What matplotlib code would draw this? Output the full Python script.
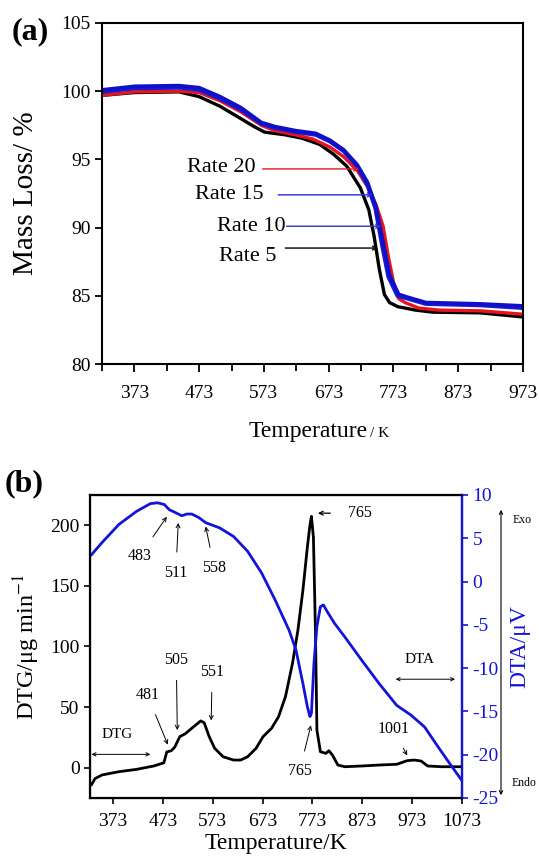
import numpy as np
import matplotlib
matplotlib.use("Agg")
import matplotlib.pyplot as plt
from matplotlib.patches import FancyArrowPatch

plt.rcParams['font.family'] = ['Liberation Serif', 'DejaVu Serif']
plt.rcParams['mathtext.fontset'] = 'stix'

# === (a) TG curves, mass loss (%) vs temperature (K) ===
T_r5 = [325, 373, 442, 473, 505, 537, 558, 574, 606, 632, 659, 680, 701, 722, 735, 743, 751, 759, 767, 780, 807, 834, 907, 973]
M_r5 = [99.7, 99.9, 99.95, 99.6, 98.9, 98.0, 97.4, 97.0, 96.8, 96.55, 96.1, 95.4, 94.5, 92.9, 91.3, 89.4, 87.0, 85.1, 84.5, 84.2, 83.95, 83.8, 83.75, 83.45]

T_r20 = [325, 373, 442, 473, 505, 537, 569, 590, 622, 648, 675, 696, 717, 733, 746, 757, 765, 773, 781, 791, 812, 844, 907, 973]
M_r20 = [99.7, 99.95, 100.0, 99.9, 99.3, 98.5, 97.5, 97.1, 96.8, 96.5, 95.9, 95.2, 94.2, 93.0, 91.7, 90.1, 87.9, 86.0, 84.8, 84.5, 84.1, 83.95, 83.9, 83.65]

T_r15 = [325, 373, 442, 473, 505, 537, 569, 590, 622, 653, 675, 696, 717, 733, 746, 757, 767, 781, 794, 823, 907, 973]
M_r15 = [100.1, 100.35, 100.4, 100.25, 99.6, 98.8, 97.7, 97.4, 97.1, 96.9, 96.4, 95.7, 94.6, 93.3, 91.5, 88.9, 86.5, 85.1, 84.9, 84.5, 84.4, 84.25]

T_r10 = [325, 373, 442, 473, 505, 537, 569, 590, 622, 653, 675, 696, 717, 733, 745, 755, 765, 779, 794, 823, 907, 973]
M_r10 = [99.95, 100.2, 100.25, 100.1, 99.45, 98.65, 97.6, 97.3, 97.0, 96.8, 96.3, 95.6, 94.5, 93.1, 91.4, 88.8, 86.4, 85.0, 84.8, 84.4, 84.3, 84.1]

rate_labels = ["Rate 20", "Rate 15", "Rate 10", "Rate 5"]
rate_text_T = [508, 520, 553, 548]
rate_text_M = [94.4, 92.4, 90.1, 87.9]
rate_line_T0 = [571, 595, 608, 606]
rate_tip_T = [720, 741, 754, 749]
rate_tip_M = [94.3, 92.4, 90.1, 88.5]
rate_colors = ["#e8141c", "#2a2ad8", "#3030c0", "black"]

# === (b) DTG (black) and DTA (blue) ===
T_dtg = [330, 337, 351, 385, 420, 455, 475, 481, 490, 497, 507, 518, 531, 549, 556, 566, 577, 594, 615, 629,
         643, 660, 674, 691, 705, 719, 733, 744, 754, 763, 768, 771, 775, 779, 782, 789, 800, 806, 813, 824,
         838, 872, 907, 942, 963, 977, 991, 1004, 1032, 1073]
dtg = [-14, -9, -6, -3.3, -1.4, 1.4, 4, 13, 14, 17, 25.6, 28, 32.5, 38.6, 37, 25.6, 16, 9, 6.3, 6.3,
       9, 16, 25.6, 32.5, 42, 58.7, 86, 113.8, 146.8, 182.6, 200, 207.4, 190, 113.8, 31, 13.2, 11.8, 14, 10.5, 2.2,
       0.8, 1.4, 2.2, 2.8, 5.8, 6.3, 5.5, 1.4, 0.8, 0.8]

T_dta = [330, 351, 385, 420, 448, 462, 476, 486, 497, 511, 521, 531, 545, 559, 587, 615, 643, 671, 698, 726,
         740, 754, 763, 768, 771, 776, 782, 789, 795, 803, 817, 838, 872, 907, 942, 970, 998, 1025, 1053, 1073]
dta = [3.1, 4.5, 6.6, 8.1, 9.0, 9.1, 8.9, 8.3, 8.0, 7.6, 7.8, 7.8, 7.4, 6.8, 6.2, 5.2, 3.5, 1.0, -2.1, -5.6,
       -7.9, -11.8, -14.5, -15.6, -15.2, -9.5, -5.2, -2.9, -2.7, -3.5, -4.8, -6.4, -9.1, -11.8, -14.3, -15.4, -16.8, -19.1, -21.4, -23.0]

# peak labels: (text, text_T, text_DTG, tip_T, tip_DTG)
peaks = [
    ("483", 427, 175, 481, 207),
    ("511", 499, 161, 504, 202),
    ("558", 576, 165, 559, 199),
    ("481", 442, 60, 483, 19),
    ("505", 500, 89, 502, 31),
    ("551", 572, 79, 570, 39),
    ("1001", 935, 32, 963, 10),
    ("765", 747, -3, 770, 35),
]

fig = plt.figure(figsize=(5.39, 8.64), dpi=100)

# ---------------- (a) ----------------
ax = fig.add_axes([0.1892, 0.5787, 0.7811, 0.3947])
ax.plot(T_r5, M_r5, color="black", lw=2.4)
ax.plot(T_r20, M_r20, color="#e8141c", lw=2.4)
ax.plot(T_r10, M_r10, color="#1a1ad0", lw=2.8)
ax.plot(T_r15, M_r15, color="#1010c8", lw=2.8)

for lab, tx, ty, t0, tt, tm, c in zip(rate_labels, rate_text_T, rate_text_M, rate_line_T0,
                                      rate_tip_T, rate_tip_M, rate_colors):
    ax.text(tx, ty, lab, fontsize=16, ha="center", va="center")
    ax.annotate("", xy=(tt, tm), xytext=(t0, tm),
                arrowprops=dict(arrowstyle="->", color=c, lw=1.0, shrinkA=0, shrinkB=0,
                                mutation_scale=7))

ax.set_xlim(323, 973)
ax.set_ylim(80, 105)
ax.set_xticks([373, 473, 573, 673, 773, 873, 973])
ax.set_xticks(np.arange(323, 974, 100), minor=True)
ax.set_yticks([80, 85, 90, 95, 100, 105])
ax.tick_params(axis="both", which="both", direction="out", labelsize=14, width=1.3)
ax.tick_params(axis="x", which="major", length=6, pad=9)
ax.tick_params(axis="x", which="minor", length=5)
ax.tick_params(axis="y", length=5, pad=3)
for s in ax.spines.values():
    s.set_linewidth(1.5)
ax.set_ylabel("Mass Loss/ %", fontsize=21, labelpad=16)
ax.text(-0.215, 0.974, "(a)", transform=ax.transAxes, fontsize=23, fontweight="bold",
        ha="left", va="center")
fig.text(368 / 539, 1 - 437 / 864, "Temperature", fontsize=17, ha="right", va="baseline")
fig.text(370 / 539, 1 - 437 / 864, "/ K", fontsize=11, ha="left", va="baseline")

# ---------------- (b) ----------------
bx = fig.add_axes([0.1670, 0.0764, 0.6902, 0.3507])
bx.plot(T_dtg, dtg, color="black", lw=2.0, zorder=3)
bx.set_xlim(327, 1073)
bx.set_ylim(-25, 225)
bx.set_xticks([373, 473, 573, 673, 773, 873, 973, 1073])
bx.set_yticks([0, 50, 100, 150, 200])
bx.tick_params(axis="both", direction="out", labelsize=14, width=1.2, length=4)
bx.tick_params(axis="x", pad=7)
for s in bx.spines.values():
    s.set_linewidth(1.6)
bx.set_ylabel("DTG/μg min$^{-1}$", fontsize=17.5, labelpad=6)
bx.set_xlabel("Temperature/K", fontsize=17, labelpad=2)
bx.text(-0.23, 1.036, "(b)", transform=bx.transAxes, fontsize=23, fontweight="bold",
        ha="left", va="center")

for lab, tx, ty, px, py in peaks:
    bx.annotate(lab, xy=(px, py), xytext=(tx, ty), fontsize=11.5, ha="center", va="center",
                arrowprops=dict(arrowstyle="->", color="black", lw=0.7, shrinkA=7, shrinkB=0,
                                mutation_scale=7))
bx.annotate("765", xy=(784, 210), xytext=(869, 210), fontsize=11.5, ha="center", va="center",
            arrowprops=dict(arrowstyle="->", color="black", lw=0.9, shrinkA=11, shrinkB=0,
                            mutation_scale=7))
bx.annotate("", xy=(330, 11), xytext=(448, 11),
            arrowprops=dict(arrowstyle="<->", color="black", lw=0.7, mutation_scale=6, shrinkA=0, shrinkB=0))
bx.text(382, 22, "DTG", fontsize=11, ha="center", va="bottom")
bx.annotate("", xy=(940, 73), xytext=(1059, 73),
            arrowprops=dict(arrowstyle="<->", color="black", lw=0.7, mutation_scale=6, shrinkA=0, shrinkB=0))
bx.text(987, 84, "DTA", fontsize=11, ha="center", va="bottom")

cx = bx.twinx()
cx.plot(T_dta, dta, color="#1414d8", lw=2.0)
cx.set_ylim(-25, 10)
cx.set_yticks([10, 5, 0, -5, -10, -15, -20, -25])
cx.set_yticklabels(["10", "5", "0", "-5", "-10", "-15", "-20", "-25"])
cx.tick_params(axis="y", direction="out", colors="#1414d8", labelsize=14, width=1.2, length=4)
cx.spines["right"].set_color("#1414d8")
cx.spines["right"].set_linewidth(1.6)
cx.set_ylabel("DTA/μV", fontsize=17, color="#1414d8", labelpad=8)

# Exo / Endo arrow outside the right axis
fig.add_artist(FancyArrowPatch((501 / 539, 1 - 798 / 864), (501 / 539, 1 - 507 / 864),
                               transform=fig.transFigure, arrowstyle="<->",
                               mutation_scale=6, lw=0.8, color="black"))
fig.text(513 / 539, 1 - 520 / 864, "Exo", fontsize=8.5, ha="left", va="center")
fig.text(512 / 539, 1 - 783 / 864, "Endo", fontsize=8.5, ha="left", va="center")

fig.savefig("out.png", dpi=100)
